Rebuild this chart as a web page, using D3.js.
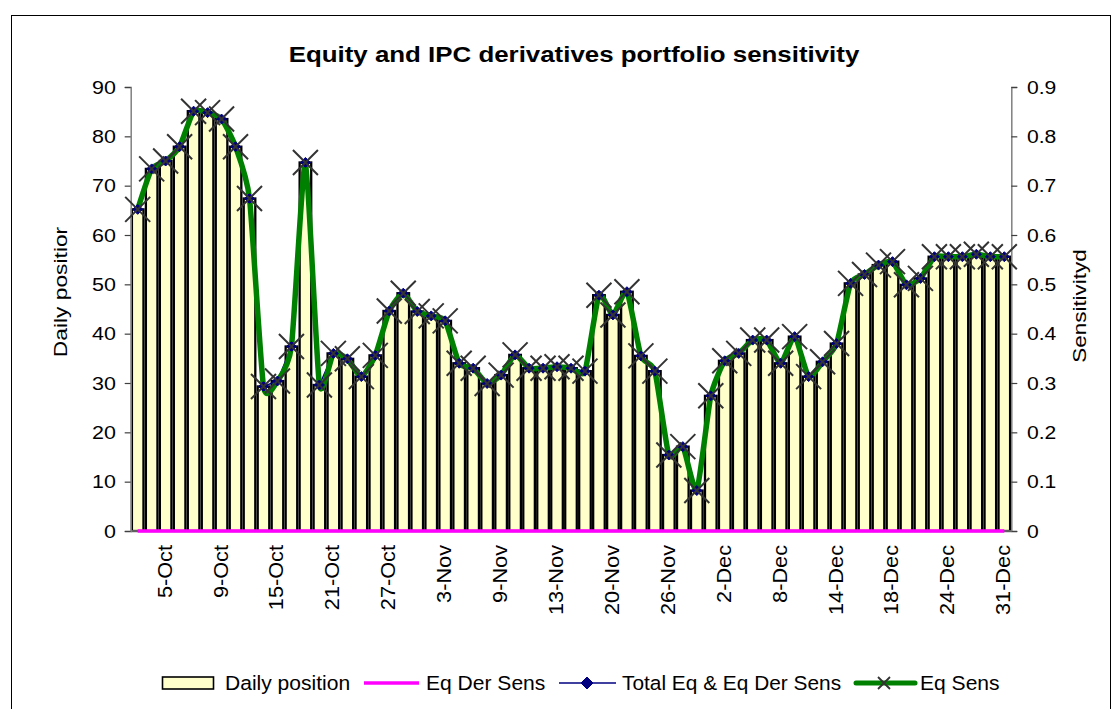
<!DOCTYPE html>
<html>
<head>
<meta charset="utf-8">
<script src="https://cdn.jsdelivr.net/npm/d3@7"></script>
<style>
  html, body { margin: 0; padding: 0; background: #fff; }
  svg { display: block; }
  text { font-family: "Liberation Sans", Arial, sans-serif; fill: #000; }
</style>
</head>
<body>
<div id="chart"></div>
<script>
// ---------------- DATA ----------------
const tickLabels = ["5-Oct","9-Oct","15-Oct","21-Oct","27-Oct","3-Nov","9-Nov","13-Nov",
  "20-Nov","26-Nov","2-Dec","8-Dec","14-Dec","18-Dec","24-Dec","31-Dec"];
// index of the category that carries each tick label
const tickIndex = [2,6,10,14,18,22,26,30,34,38,42,46,50,54,58,62];

// Daily position (left axis)
const dailyPosition = [65.2,73.4,75.0,77.9,85.1,84.8,83.5,77.9,67.4,29.3,
  30.4,37.4,74.7,29.6,36.0,34.9,31.3,35.6,44.6,48.2,
  44.5,43.6,42.6,34.0,33.0,29.9,31.6,35.7,33.0,33.0,
  33.3,33.0,32.4,47.8,43.8,48.5,35.5,32.4,15.4,17.1,
  8.2,27.4,34.5,36.0,38.7,38.7,34.0,39.4,31.3,34.3,
  38.0,50.2,52.0,53.9,54.6,49.9,51.2,55.6,55.6,55.6,
  56.1,55.6,55.6];

// Sensitivities (right axis)
const eqDerSens = [0,0,0,0,0,0,0,0,0,0, 0,0,0,0,0,0,0,0,0,0, 0,0,0,0,0,0,0,0,0,0,
  0,0,0,0,0,0,0,0,0,0, 0,0,0,0,0,0,0,0,0,0, 0,0,0,0,0,0,0,0,0,0, 0,0,0];
const totalEqSens = [0.652,0.734,0.750,0.779,0.851,0.848,0.835,0.779,0.674,0.293,
  0.304,0.374,0.747,0.296,0.360,0.349,0.313,0.356,0.446,0.482,
  0.445,0.436,0.426,0.340,0.330,0.299,0.316,0.357,0.330,0.330,
  0.333,0.330,0.324,0.478,0.438,0.485,0.355,0.324,0.154,0.171,
  0.082,0.274,0.345,0.360,0.387,0.387,0.340,0.394,0.313,0.343,
  0.380,0.502,0.520,0.539,0.546,0.499,0.512,0.556,0.556,0.556,
  0.561,0.556,0.556];
const eqSens = [0.652,0.734,0.750,0.779,0.851,0.848,0.835,0.779,0.674,0.293,
  0.304,0.374,0.747,0.296,0.360,0.349,0.313,0.356,0.446,0.482,
  0.445,0.436,0.426,0.340,0.330,0.299,0.316,0.357,0.330,0.330,
  0.333,0.330,0.324,0.478,0.438,0.485,0.355,0.324,0.154,0.171,
  0.082,0.274,0.345,0.360,0.387,0.387,0.340,0.394,0.313,0.343,
  0.380,0.502,0.520,0.539,0.546,0.499,0.512,0.556,0.556,0.556,
  0.561,0.556,0.556];

const leftTicks = [0,10,20,30,40,50,60,70,80,90];
const rightTicks = [0,0.1,0.2,0.3,0.4,0.5,0.6,0.7,0.8,0.9];

// ---------------- LAYOUT ----------------
const W = 1119, H = 709;
const plot = {left: 130.7, right: 1011.3, top: 87, bottom: 531};

const svg = d3.select("#chart").append("svg").attr("width", W).attr("height", H);

// outer chart frame
svg.append("rect").attr("x", 11.5).attr("y", 15.5).attr("width", 1099).attr("height", 720)
  .attr("fill", "#fff").attr("stroke", "#000").attr("stroke-width", 1);

const x = d3.scaleBand().domain(d3.range(dailyPosition.length))
  .range([plot.left, plot.right]).paddingInner(0).paddingOuter(0);
const yL = d3.scaleLinear().domain([0, 90]).range([plot.bottom, plot.top]);
const yR = d3.scaleLinear().domain([0, 0.9]).range([plot.bottom, plot.top]);
const cx = i => x(i) + x.bandwidth() / 2;

// helper: text stretched along its own direction
function stext(parent, str, tx, ty, rot, size, sx, anchor, weight) {
  return parent.append("text")
    .attr("transform", `translate(${tx},${ty})` + (rot ? ` rotate(${rot})` : "") + ` scale(${sx},1)`)
    .attr("text-anchor", anchor || "start")
    .style("font-size", size + "px")
    .style("font-weight", weight || "normal")
    .text(str);
}

// title
stext(svg, "Equity and IPC derivatives portfolio sensitivity", 574, 62, 0, 22.5, 1.15, "middle", "bold");

// bars
const bw = x.bandwidth();
svg.append("g").selectAll("rect").data(dailyPosition).join("rect")
  .attr("x", (d, i) => x(i) + 1.2)
  .attr("width", bw - 2.4)
  .attr("y", d => yL(d))
  .attr("height", d => yL(0) - yL(d))
  .attr("fill", "#FFFFCC").attr("stroke", "#000").attr("stroke-width", 2.3);

// left axis
const gL = svg.append("g").attr("transform", `translate(${plot.left},0)`)
  .call(d3.axisLeft(yL).tickValues(leftTicks).tickSize(6).tickFormat(() => ""));
gL.select(".domain").attr("stroke", "#808080").attr("stroke-width", 1.5);
gL.selectAll(".tick line").attr("stroke", "#404040").attr("stroke-width", 1.2);
const gLl = svg.append("g");
leftTicks.forEach(t => stext(gLl, d3.format("d")(t), 116, yL(t) + 6.8, 0, 19.2, 1.12, "end"));

// right axis
const gR = svg.append("g").attr("transform", `translate(${plot.right},0)`)
  .call(d3.axisRight(yR).tickValues(rightTicks).tickSize(6).tickFormat(() => ""));
gR.select(".domain").attr("stroke", "#808080").attr("stroke-width", 1.5);
gR.selectAll(".tick line").attr("stroke", "#404040").attr("stroke-width", 1.2);
const gRl = svg.append("g");
rightTicks.forEach(t => stext(gRl, t === 0 ? "0" : d3.format(".1f")(t), 1027, yR(t) + 6.8, 0, 19.2, 1.1, "start"));

// x axis baseline
svg.append("line").attr("x1", plot.left).attr("x2", plot.right)
  .attr("y1", plot.bottom).attr("y2", plot.bottom).attr("stroke", "#808080").attr("stroke-width", 1.5);

// x tick labels
const gX = svg.append("g");
tickIndex.forEach((d, i) => stext(gX, tickLabels[i], cx(d) + 6, 545, -90, 20.5, 1.06, "end"));

// axis titles
stext(svg, "Daily positior", 67, 292, -90, 19, 1.2, "middle");
stext(svg, "Sensitivityd", 1086, 306, -90, 19, 1.18, "middle");

// lines
const lineStraight = d3.line().x((d, i) => cx(i)).y(d => yR(d));
const lineSmooth = d3.line().x((d, i) => cx(i)).y(d => yR(d)).curve(d3.curveCardinal.tension(0.45));

svg.append("path").datum(eqDerSens).attr("d", lineStraight)
  .attr("fill", "none").attr("stroke", "#FF00FF").attr("stroke-width", 3.5);
svg.append("path").datum(totalEqSens).attr("d", lineStraight)
  .attr("fill", "none").attr("stroke", "#000080").attr("stroke-width", 1.5);
svg.append("path").datum(eqSens).attr("d", lineSmooth)
  .attr("fill", "none").attr("stroke", "#008000").attr("stroke-width", 5.5).attr("stroke-linejoin", "round");

// diamond markers
const diamond = (s) => `M0,${-s}L${s},0L0,${s}L${-s},0Z`;
svg.append("g").selectAll("path").data(totalEqSens).join("path")
  .attr("transform", (d, i) => `translate(${cx(i)},${yR(d)})`)
  .attr("d", diamond(5)).attr("fill", "#000080").attr("stroke", "#000080").attr("stroke-width", 1);

// X markers
const xMark = (s) => `M${-s},${-s}L${s},${s}M${-s},${s}L${s},${-s}`;
svg.append("g").selectAll("path").data(eqSens).join("path")
  .attr("transform", (d, i) => `translate(${cx(i)},${yR(d)})`)
  .attr("d", xMark(12.5)).attr("fill", "none").attr("stroke", "#333").attr("stroke-width", 2);

// legend
const ly = 683;
const leg = svg.append("g");
leg.append("rect").attr("x", 162.5).attr("y", 677).attr("width", 51).attr("height", 12)
  .attr("fill", "#FFFFCC").attr("stroke", "#000").attr("stroke-width", 1.6);
stext(leg, "Daily position", 225, ly + 7, 0, 19.5, 1.08, "start");

leg.append("line").attr("x1", 364).attr("x2", 419).attr("y1", ly).attr("y2", ly)
  .attr("stroke", "#FF00FF").attr("stroke-width", 3.5);
stext(leg, "Eq Der Sens", 426, ly + 7, 0, 19.5, 1.08, "start");

leg.append("line").attr("x1", 559).attr("x2", 616).attr("y1", ly).attr("y2", ly)
  .attr("stroke", "#000080").attr("stroke-width", 1.5);
leg.append("path").attr("transform", `translate(587,${ly})`).attr("d", diamond(6))
  .attr("fill", "#000080").attr("stroke", "#000080");
stext(leg, "Total Eq & Eq Der Sens", 622, ly + 7, 0, 19.5, 1.07, "start");

leg.append("line").attr("x1", 856).attr("x2", 915).attr("y1", ly).attr("y2", ly)
  .attr("stroke", "#008000").attr("stroke-width", 5).attr("stroke-linecap", "round");
leg.append("path").attr("transform", `translate(884,${ly})`).attr("d", xMark(6))
  .attr("fill", "none").attr("stroke", "#333").attr("stroke-width", 1.8);
stext(leg, "Eq Sens", 920, ly + 7, 0, 19.5, 1.08, "start");
</script>
</body>
</html>
